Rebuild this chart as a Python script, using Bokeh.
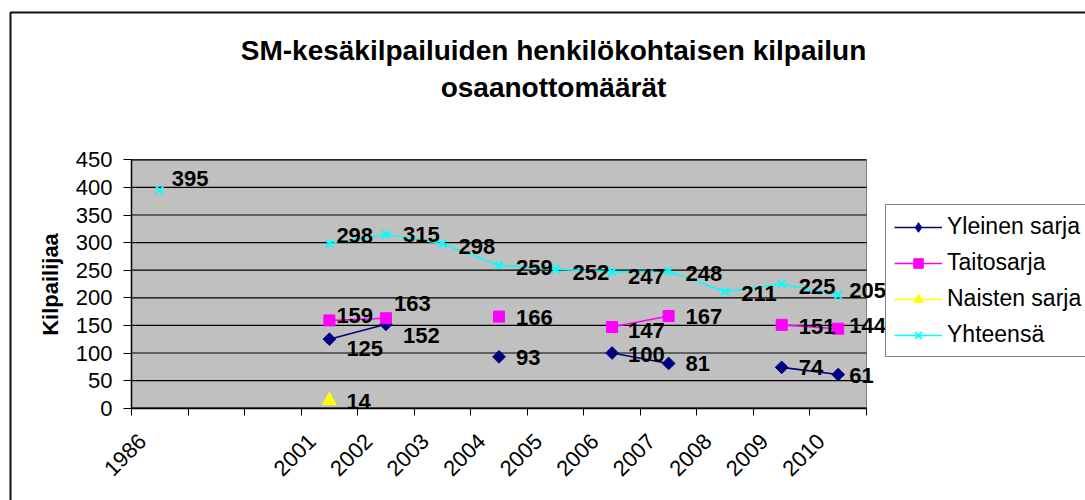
import math
from bokeh.plotting import figure
from bokeh.models import (ColumnDataSource, Range1d, FixedTicker, LabelSet, Label,
                          Legend, LegendItem)
from bokeh.core.properties import value
from bokeh.embed import file_html
from bokeh.resources import INLINE

# ---------------- data ----------------
categories = ["1986", "", "", "2001", "2002", "2003", "2004", "2005",
              "2006", "2007", "2008", "2009", "2010"]
yleinen_sarja = [None, None, None, 125, 152, None, 93, None, 100, 81, None, 74, 61]
taitosarja = [None, None, None, 159, 163, None, 166, None, 147, 167, None, 151, 144]
naisten_sarja = [None, None, None, 14, None, None, None, None, None, None, None, None, None]
yhteensa = [395, None, None, 298, 315, 298, 259, 252, 247, 248, 211, 225, 205]
y_ticks = [0, 50, 100, 150, 200, 250, 300, 350, 400, 450]

title_lines = ["SM-kesäkilpailuiden henkilökohtaisen kilpailun", "osaanottomäärät"]
y_title = "Kilpailijaa"
series_names = ["Yleinen sarja", "Taitosarja", "Naisten sarja", "Yhteensä"]

# data-label nudges (dx, dy) in screen px, dy downward
label_nudges = {
    "Yleinen sarja": [None, None, None, (17, 9), (17, 11), None, (17, 1), None, (16, 1), (17, 0), None, (17, 0), (11, 1)],
    "Taitosarja": [None, None, None, (7, -5), (8, -15), None, (17, 1), None, (16, 3), (17, 0), None, (17, 2), (11, -3)],
    "Naisten sarja": [None, None, None, (17, 1)] + [None] * 9,
    "Yhteensä": [(12, -12), None, None, (7, -8), (17, 0), (16, 3), (17, 2), (17, 3), (16, 5), (17, 2), (16, 2), (17, 2), (11, -5)],
}

# ---------------- geometry (page pixels) ----------------
FONT = "Liberation Sans"
CANVAS_L, CANVAS_T, W, H = 0, 0, 1085, 500
PLOT_L, PLOT_R, PLOT_B, PLOT_T = 131, 866, 407.7, 159.3
Y_MAX = 450
N = len(categories)
kx = (PLOT_R - PLOT_L) / N
ky = (PLOT_B - PLOT_T) / Y_MAX

def dx_(px):
    return (px - PLOT_L) / kx

def dy_(py):
    return (PLOT_B - py) / ky

x_centers = [i + 0.5 for i in range(N)]
NAN = float("nan")

def nanify(vals):
    return [NAN if v is None else v for v in vals]

p = figure(width=W, height=H, output_backend="svg", toolbar_location=None,
           x_range=Range1d(dx_(CANVAS_L), dx_(CANVAS_L + W)),
           y_range=Range1d(dy_(CANVAS_T + H), dy_(CANVAS_T)),
           min_border=0, min_border_left=0, min_border_right=0,
           min_border_top=0, min_border_bottom=0)
p.background_fill_color = "white"
p.border_fill_color = "white"
p.outline_line_color = None
p.xgrid.visible = False
p.ygrid.visible = False

# outer chart-area border (left and top edges visible)
bx, by = dx_(10), dy_(12)
p.line([bx, bx, dx_(CANVAS_L + W + 20)], [dy_(CANVAS_T + H + 20), by, by],
       line_color="#111111", line_width=2)

# plot area
p.quad(left=0, right=N, bottom=0, top=Y_MAX, fill_color="#C0C0C0",
       line_color="#808080", line_width=1)
p.segment(x0=[0] * len(y_ticks), x1=[N] * len(y_ticks), y0=y_ticks, y1=y_ticks,
          line_color="black", line_width=1.2)

# axes drawn at the plot-area edges
p.xaxis.fixed_location = 0
p.yaxis.fixed_location = 0
p.xaxis.bounds = (0, N)
p.yaxis.bounds = (0, Y_MAX)

nb = "\u00a0" * 4
p.xaxis.ticker = FixedTicker(ticks=x_centers, minor_ticks=list(range(N + 1)))
p.xaxis.major_label_overrides = {x: (c + nb if c else "") for x, c in zip(x_centers, categories)}
p.xaxis.major_tick_out = 0
p.xaxis.major_tick_in = 0
p.xaxis.minor_tick_out = 7
p.xaxis.minor_tick_in = 0
p.xaxis.minor_tick_line_color = "black"
p.xaxis.major_label_orientation = math.pi / 4
p.xaxis.major_label_standoff = 5
p.xaxis.axis_line_color = "black"
p.xaxis.axis_line_width = 1.5
p.xaxis.major_label_text_font = FONT
p.xaxis.major_label_text_font_size = "22px"
p.xaxis.major_label_text_color = "black"

p.yaxis.ticker = FixedTicker(ticks=y_ticks)
p.yaxis.minor_tick_line_color = None
p.yaxis.major_tick_out = 8
p.yaxis.major_tick_in = 0
p.yaxis.major_tick_line_color = "black"
p.yaxis.axis_line_color = "black"
p.yaxis.axis_line_width = 1.5
p.yaxis.major_label_standoff = 11
p.yaxis.major_label_text_font = FONT
p.yaxis.major_label_text_font_size = "22px"
p.yaxis.major_label_text_color = "black"

styles = {
    "Yleinen sarja": dict(color="#000080", marker="square", size=9, angle=math.pi / 4,
                          legend_marker="diamond", legend_size=15),
    "Taitosarja": dict(color="#FF00FF", marker="square", size=11, angle=0,
                       legend_marker="square", legend_size=11),
    "Naisten sarja": dict(color="#FFFF00", marker="triangle", size=14, angle=0,
                          legend_marker="triangle", legend_size=14),
    "Yhteensä": dict(color="#00FFFF", marker="x", size=11, angle=0,
                     legend_marker="x", legend_size=11),
}
values = {
    "Yleinen sarja": yleinen_sarja,
    "Taitosarja": taitosarja,
    "Naisten sarja": naisten_sarja,
    "Yhteensä": yhteensa,
}

items = []
for name in series_names:
    vals = nanify(values[name])
    st = styles[name]
    lw = 2 if st["marker"] == "x" else 1
    src = ColumnDataSource(dict(x=x_centers, y=vals))
    lr = p.line("x", "y", source=src, line_color=st["color"], line_width=1.6)
    p.scatter("x", "y", source=src, marker=st["marker"], size=st["size"], angle=st["angle"],
              fill_color=st["color"], line_color=st["color"], line_width=lw)
    # legend key marker (not drawn in the plot: its only point is missing)
    proxy = p.scatter(x=[NAN], y=[NAN], marker=st["legend_marker"], size=st["legend_size"],
                      fill_color=st["color"], line_color=st["color"], line_width=lw)
    items.append(LegendItem(label=name, renderers=[lr, proxy]))

# data labels
for name in series_names:
    xs, ys, txt, dxs, dys = [], [], [], [], []
    for i, v in enumerate(values[name]):
        if v is None:
            continue
        ddx, ddy = label_nudges[name][i]
        xs.append(x_centers[i]); ys.append(v); txt.append(str(v))
        dxs.append(ddx); dys.append(-ddy)
    lsrc = ColumnDataSource(dict(x=xs, y=ys, t=txt, dx=dxs, dy=dys))
    p.add_layout(LabelSet(x="x", y="y", text="t", source=lsrc, x_offset="dx", y_offset="dy",
                          text_font=value(FONT), text_font_style="bold", text_font_size="22px",
                          text_color="black", text_align="left", text_baseline="middle"))

# title (two centred lines)
for line, py in zip(title_lines, [50, 87]):
    p.add_layout(Label(x=dx_(553), y=dy_(py), text=line, text_font=FONT, text_font_style="bold",
                       text_font_size="28px", text_color="black", text_align="center",
                       text_baseline="middle"))

# value-axis title
p.add_layout(Label(x=dx_(50), y=dy_(284), text=y_title, angle=math.pi / 2,
                   text_font=FONT, text_font_style="bold", text_font_size="22px",
                   text_color="black", text_align="center", text_baseline="middle"))

legend = Legend(items=items, location=(885 - CANVAS_L, CANVAS_T + H - 357),
                glyph_width=48, glyph_height=24, label_height=24, spacing=9,
                padding=8, margin=0, label_standoff=5,
                label_text_font=FONT, label_text_font_size="23px", label_text_color="black",
                border_line_color="black", border_line_width=1.2,
                background_fill_color="white", background_fill_alpha=1)
p.add_layout(legend)

open("out.html", "w").write(file_html(p, INLINE))
